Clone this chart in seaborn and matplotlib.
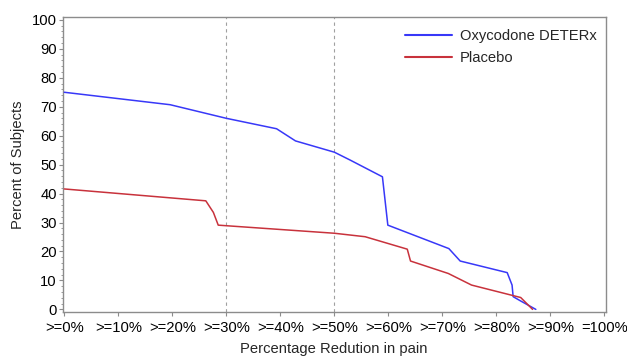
import matplotlib
matplotlib.use("Agg")
import matplotlib.pyplot as plt
from matplotlib.ticker import MultipleLocator
import numpy as np
import pandas as pd
import seaborn as sns

# Responder curves: percent of subjects reaching at least a given pain reduction
oxy_x = [0, 19.6, 30, 39.3, 42.8, 50, 52.9, 58.9, 59.9, 71.2, 73.3, 82.0, 82.9, 83.1, 84.4, 87.3]
oxy_y = [75.0, 70.7, 66.0, 62.4, 58.2, 54.3, 51.6, 45.8, 29.1, 21.0, 16.7, 12.7, 8.4, 4.4, 3.0, 0.0]

pbo_x = [0, 26.2, 27.6, 28.5, 30, 50, 55.7, 63.5, 64.1, 71.1, 75.4, 84.5, 86.7]
pbo_y = [41.6, 37.5, 33.5, 29.1, 28.9, 26.3, 25.1, 20.8, 16.7, 12.4, 8.4, 4.1, 0.0]

groups = ["Oxycodone DETERx", "Placebo"]
colors = ["#3838f8", "#c8323c"]

x_ticks = list(range(0, 101, 10))
x_tick_labels = [">=0%", ">=10%", ">=20%", ">=30%", ">=40%", ">=50%",
                 ">=60%", ">=70%", ">=80%", ">=90%", "=100%"]
ref_lines = [30, 50]

df = pd.concat([
    pd.DataFrame({"reduction": oxy_x, "percent": oxy_y, "group": groups[0]}),
    pd.DataFrame({"reduction": pbo_x, "percent": pbo_y, "group": groups[1]}),
], ignore_index=True)

sns.set_theme(style="white")
plt.rcParams["font.family"] = ["Liberation Sans", "DejaVu Sans"]

FS = 10.6

fig = plt.figure(figsize=(6.27, 3.56), dpi=100)
ax = fig.add_axes([63 / 627, 1 - 311.7 / 356, (605.5 - 63) / 627, (311.7 - 17) / 356])

for xv in ref_lines:
    ax.axvline(xv, color="#a0a0a0", lw=0.8, ls=(0, (3, 3)), zorder=1)

sns.lineplot(data=df, x="reduction", y="percent", hue="group", hue_order=groups,
             palette=colors, sort=False, estimator=None, lw=1.1, ax=ax, zorder=3)

ax.set_xlim(-0.24, 100.2)
ax.set_ylim(-0.8, 101.0)
ax.set_xticks(x_ticks)
ax.set_xticklabels(x_tick_labels)
ax.yaxis.set_major_locator(MultipleLocator(10))
ax.yaxis.set_minor_locator(MultipleLocator(2))

for s in ax.spines.values():
    s.set_color("#8c8c8c")
    s.set_linewidth(1.0)

ax.tick_params(axis="x", which="major", direction="out", length=3, width=0.8,
               color="#8c8c8c", labelsize=FS, pad=4, bottom=True, labelcolor="black")
ax.tick_params(axis="y", which="major", direction="out", length=3, width=0.8,
               color="#8c8c8c", labelsize=FS, pad=1.5, left=True, labelcolor="black")
ax.tick_params(axis="y", which="minor", direction="out", length=1.5, width=0.6,
               color="#8c8c8c", left=True)

ax.set_xlabel("")
ax.set_ylabel("Percent of Subjects", fontsize=FS, labelpad=5)
fig.text(334 / 627, 1 - 342 / 356, "Percentage Redution in pain",
         ha="center", va="top", fontsize=FS)

leg = ax.legend(loc="upper right", frameon=False, fontsize=FS,
                bbox_to_anchor=(1.008, 1.005), handlelength=3.2, handletextpad=0.55,
                labelspacing=0.55)
for line in leg.get_lines():
    line.set_linewidth(1.5)

fig.savefig("out.png", dpi=100)
